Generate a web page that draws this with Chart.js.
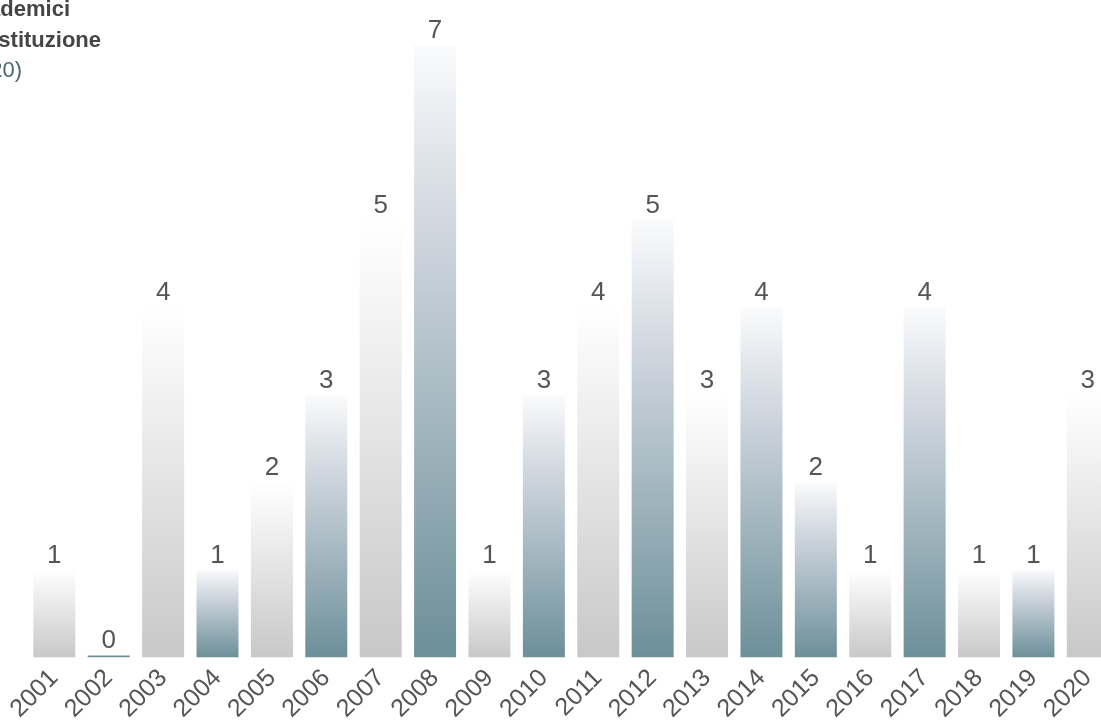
<!DOCTYPE html>
<html>
<head>
<meta charset="utf-8">
<script src="https://cdn.jsdelivr.net/npm/chart.js@4.4.1/dist/chart.umd.min.js"></script>
<style>
  html, body { margin:0; padding:0; width:1101px; height:722px; overflow:hidden; background:#fff; }
  #wrap { position:absolute; left:9px; top:0; width:1106px; height:730px; }
  .t { position:absolute; white-space:nowrap; font-family:"Liberation Sans", Arial, sans-serif; font-size:22px; line-height:22px; }
  .b { font-weight:bold; color:#454545; }
  .s { color:#4a6676; }
</style>
</head>
<body>
<div id="wrap"><canvas id="c"></canvas></div>
<div class="t b" style="right:1031px; top:-2px;">Numero di accademici</div>
<div class="t b" style="right:1000px; top:29px;">per anno di istituzione</div>
<div class="t s" style="right:1079px; top:59px;">(2001-2020)</div>
<script>
const years = ['2001','2002','2003','2004','2005','2006','2007','2008','2009','2010','2011','2012','2013','2014','2015','2016','2017','2018','2019','2020'];
const counts = [1,0,4,1,2,3,5,7,1,3,4,5,3,4,2,1,4,1,1,3];
const tone = ['g','b','g','b','g','b','g','b','g','b','g','b','g','b','b','g','b','g','b','g'];

const TEAL = '#6c8f99';

function barFill(ctx) {
  const chart = ctx.chart;
  if (ctx.type !== 'data') return TEAL;
  const ys = chart.scales.y;
  if (!ys || !chart.chartArea) return TEAL;
  const v = counts[ctx.dataIndex];
  const t = tone[ctx.dataIndex];
  if (v === 0) return TEAL;
  const top = ys.getPixelForValue(v);
  const bot = ys.getPixelForValue(0);
  const g = chart.ctx.createLinearGradient(0, top, 0, bot);
  if (t === 'b') {
    g.addColorStop(0, '#fafbfc');
    g.addColorStop(0.3, '#cfd6de');
    g.addColorStop(1, TEAL);
  } else {
    g.addColorStop(0, '#ffffff');
    g.addColorStop(1, '#c8c8c8');
  }
  return g;
}

const labelPlugin = {
  id: 'vlabels',
  afterDatasetsDraw(chart) {
    const c = chart.ctx;
    const meta = chart.getDatasetMeta(0);
    c.save();
    c.font = '300 26px "Liberation Sans", Arial, sans-serif';
    c.fillStyle = '#555555';
    c.textAlign = 'center';
    c.textBaseline = 'alphabetic';
    meta.data.forEach((el, i) => {
      c.fillText(String(counts[i]), el.x, el.y - 7);
    });
    c.restore();
  }
};

new Chart(document.getElementById('c'), {
  type: 'bar',
  data: {
    labels: years,
    datasets: [{
      data: counts,
      backgroundColor: barFill,
      borderWidth: 0,
      minBarLength: 2,
      barPercentage: 0.772,
      categoryPercentage: 1.0
    }]
  },
  options: {
    responsive: true,
    maintainAspectRatio: false,
    animation: false,
    layout: { padding: { top: 45, left: 0, right: 0, bottom: 0 } },
    plugins: { legend: { display: false }, tooltip: { enabled: false } },
    scales: {
      x: {
        grid: { display: false, drawTicks: false },
        border: { display: false },
        ticks: {
          maxRotation: 45, minRotation: 45, autoSkip: false,
          color: '#555555', padding: 6,
          font: { family: '"Liberation Sans", Arial, sans-serif', size: 25 }
        }
      },
      y: {
        display: false,
        min: 0, max: 7
      }
    }
  },
  plugins: [labelPlugin]
});
</script>
</body>
</html>
